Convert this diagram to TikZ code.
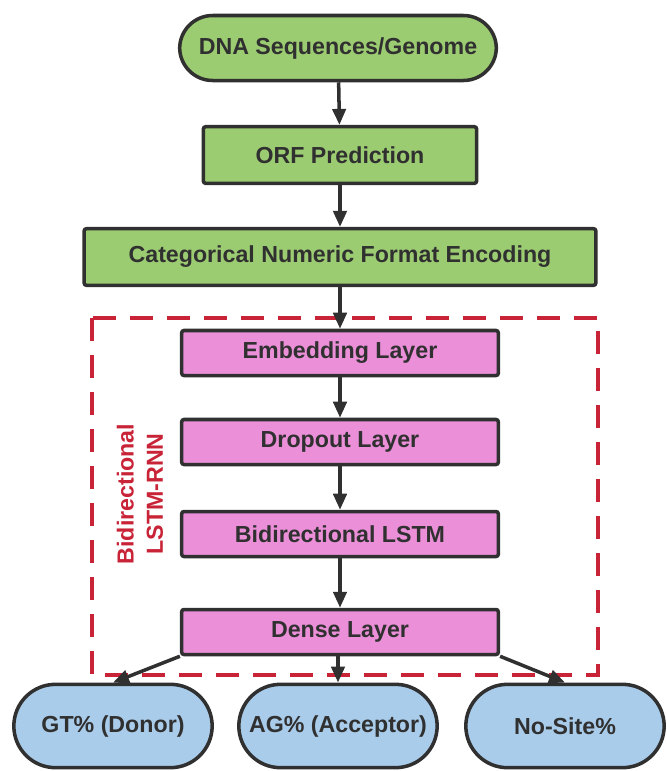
\documentclass[tikz,border=0pt]{standalone}
\usepackage{fontspec}
\setmainfont{Liberation Sans}
\usetikzlibrary{arrows.meta,positioning}
\definecolor{leafgreen}{RGB}{156,204,114}
\definecolor{orchid}{RGB}{234,143,216}
\definecolor{skyblue}{RGB}{169,204,235}
\definecolor{inkgray}{RGB}{48,48,48}
\definecolor{crimson}{RGB}{200,35,55}

\begin{document}
\begin{tikzpicture}[x=0.03cm,y=-0.03cm,
    boxbase/.style={draw=inkgray,line width=3pt,text=inkgray,inner sep=0pt,
      font=\fontsize{19.8}{23}\selectfont\bfseries},
    startbox/.style={boxbase,fill=leafgreen,rounded corners=0.99cm,minimum width=9.5cm,minimum height=1.95cm},
    greenbox/.style={boxbase,fill=leafgreen,rounded corners=2pt,minimum height=1.7cm},
    layerbox/.style={boxbase,fill=orchid,rounded corners=2pt,minimum width=9.5cm,minimum height=1.35cm},
    outbox/.style={boxbase,fill=skyblue,rounded corners=1.25cm,minimum width=5.95cm,minimum height=2.5cm},
    flow/.style={draw=inkgray,line width=3pt,-{Triangle[length=0.48cm,width=0.4cm]}}]
  \useasboundingbox (0,0) rectangle (667,771);

  % pipeline
  \node[startbox] (dna) at (338,48) {DNA Sequences/Genome};
  \node[greenbox,minimum width=8.2cm] (orf) at (340,155) {ORF Prediction};
  \node[greenbox,minimum width=15.35cm] (enc) at (340,257) {Categorical Numeric Format Encoding};

  % network layers
  \foreach \t/\y/\n in {Embedding Layer/353/emb, Dropout Layer/442/drop,
      Bidirectional LSTM/534/lstm, Dense Layer/632/dense}
    \node[layerbox] (\n) at (340,\y) {\t};

  \draw[crimson,line width=3.4pt,dash pattern=on 0.69cm off 0.42cm]
    (92,318) rectangle (598,675);
  \node[rotate=90,align=center,text=crimson,inner sep=0pt,
    font=\fontsize{19.8}{25}\selectfont\bfseries] (rnnlabel) at (140,494) {Bidirectional\\LSTM-RNN};

  % outputs
  \node[outbox] (gt) at (113,726) {GT\% (Donor)};
  \node[outbox] (ag) at (338,726) {AG\% (Acceptor)};
  \node[outbox] (nosite) at (565,726) {No-Site\%};

  \draw[flow] (dna) -- (orf);
  \draw[flow] (orf) -- (enc);
  \draw[flow] (enc) -- (emb);
  \draw[flow] (emb) -- (drop);
  \draw[flow] (drop) -- (lstm);
  \draw[flow] (lstm) -- (dense);
  \draw[flow] (dense.south west) -- (gt.north);
  \draw[flow] (dense.south -| ag.north) -- (ag.north);
  \draw[flow] (dense.south east) -- (nosite.north);
\end{tikzpicture}
\end{document}
